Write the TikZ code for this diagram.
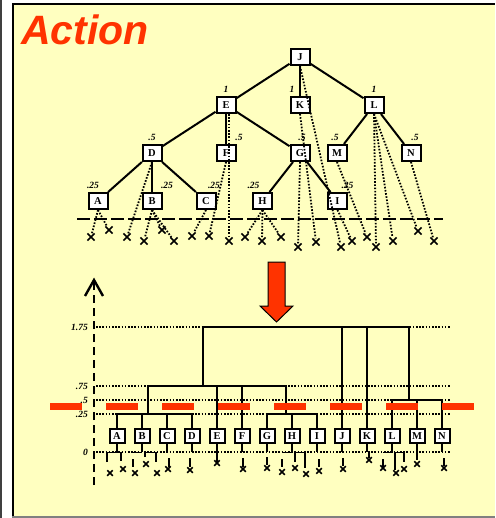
\documentclass[tikz,border=0pt]{standalone}
\usepackage{fontspec}
\setmainfont{Liberation Serif}
\newfontfamily\titlefont{Liberation Sans}
\usetikzlibrary{shapes.misc}
\definecolor{panelyellow}{RGB}{255,255,192}
\definecolor{actionred}{RGB}{255,51,0}

\begin{document}
\begin{tikzpicture}[x=1pt,y=-1pt,
	level distance=48pt,
	level 1/.style={sibling distance=74pt},
	level 2/.style={sibling distance=74pt},
	level 3/.style={sibling distance=54pt},
	edge from parent/.style={draw,tree line},
	every label/.style={num},
	label distance=2pt]
\tikzstyle{box node}=[rectangle,draw,fill=white,line width=2pt,inner sep=0pt,minimum width=19pt,minimum height=16pt,font=\fontsize{10.5}{10.5}\selectfont\bfseries]
\tikzstyle{leaf node}=[box node,minimum width=15pt,minimum height=14pt]
\tikzset{
	x node/.style={cross out,draw,line width=1.7pt,inner sep=0pt,minimum size=5.5pt},
	small x/.style={x node,minimum size=4pt,line width=1.5pt},
	num/.style={font=\fontsize{9.5}{9.5}\selectfont\bfseries\itshape,inner sep=1pt},
	tree line/.style={line width=2pt},
	stub/.style={line width=1.8pt},
	dot line/.style={line width=1.8pt,dash pattern=on 1.6pt off 1.6pt},
	level line/.style={line width=1.5pt,dash pattern=on 1.5pt off 1.7pt},
	cut line/.style={line width=2pt,dash pattern=on 13pt off 4pt},
	red cut/.style={actionred,line width=7pt,dash pattern=on 32pt off 24pt}
}
\useasboundingbox (0,0) rectangle (495,518);
% panel
\fill[white] (0,0) rectangle (495,518);
\draw[black!75,line width=2pt] (1,0) -- (1,518);
\fill[panelyellow] (12,3) rectangle (495,518);
\draw[line width=1.8pt] (12.9,518) -- (12.9,3.9) -- (495,3.9);
\draw[gray,line width=1.5pt] (12,516.8) -- (495,516.8);
\node[anchor=base west,inner sep=0pt,text=actionred,font=\titlefont\bfseries\itshape\fontsize{41}{41}\selectfont] (title) at (21,45) {Action};

% search tree
\node[box node] (J) at (300,57) {J}
	child{node[box node,label=above:1] (E) {E}
		child{node[box node,label=above:.5] (D) {D}
			child{node[box node,label={[xshift=-5pt]above:.25}] (A) {A}}
			child{node[box node,label={[xshift=15pt]above:.25}] (B) {B}}
			child{node[box node,label={[xshift=8pt]above:.25}] (C) {C}}
		}
		child{node[box node,label={[xshift=13pt]above:.5}] (F) {F}}
		child{node[box node,label={[xshift=2pt]above:.5}] (G) {G}
			child[sibling distance=75pt]{node[box node,label={[xshift=-9pt]above:.25}] (H) {H}}
			child[sibling distance=75pt]{node[box node,label={[xshift=10pt]above:.25}] (I) {I}}
		}
	}
	child{node[box node,label={[xshift=-8pt]above:1}] (K) {K}}
	child{node[box node,label=above:1] (L) {L}
		child{node[box node,label={[xshift=-2pt]above:.5}] (M) {M}}
		child{node[box node,label={[xshift=4pt]above:.5}] (N) {N}}
	};

% cut-off line
\coordinate (cut west) at (77,219);
\coordinate (cut east) at (443,219);
\draw[cut line] (cut west) -- (cut east);

% pruned moves
\foreach \n/\x/\y in {ax1/91/237,ax2/109/230,dx/127/237,bx1/144/241,bx2/162/230,bx3/174/241,cx/192/236,fx/209/236,ex/229/241,hx1/245/237,hx2/262/241,hx3/281/237,gx/298/247,kx/316/242,jx/341/247,ix/352/241,mx/367/237,lx1/376/247,lx2/393/241,lx3/418/231,nx/434/241}
	\node[x node] (\n) at (\x,\y) {};
\foreach \s/\t in {A/ax1,A/ax2,D/dx,B/bx1,B/bx2,B/bx3,C/cx,F/fx,H/hx1,H/hx2,H/hx3,G/gx,K/kx,J/jx,I/ix,M/mx,L/lx1,L/lx2,L/lx3,N/nx}
	\draw[dot line] (\s.south) -- (\t);
\draw[dot line] ([xshift=3pt]E.south) -- (ex);

% arrow
\draw[fill=actionred,line width=1pt] (268,262) -- (285,262) -- (285,306) -- (293,306) -- (276.5,322) -- (260,306) -- (268,306) -- cycle;

% axis
\coordinate (axis top) at (94,280);
\coordinate (axis bot) at (94,485);
\draw[line width=2.4pt,dash pattern=on 8pt off 5pt] (axis bot) -- (axis top);
\draw[line width=2.4pt] (85,296) -- (94,280) -- (103,296);

% levels
\foreach \y/\t [count=\i] in {327/1.75,386/.75,400/.5,414/.25,452/0}{
	\draw[level line] (96,\y) -- (451,\y);
	\node[num,anchor=east] (lv\i) at (89,\y) {\t};
}

% leaves
\foreach \l [count=\i from 0] in {A,...,N}
	\node[leaf node] (leaf\l) at ({117+25*\i},436) {\l};

% merges
\coordinate (abcd) at (148,414);
\coordinate (ghi) at (286,414);
\coordinate (low) at (203,386);
\coordinate (top) at (203,327);
\coordinate (lmn) at (409,400);
\coordinate (zero) at (0,452);
\draw[tree line] (leafA.north) |- (leafD.north |- abcd) -- (leafD.north);
\draw[tree line] (leafB.north) -- (leafB.north |- abcd);
\draw[tree line] (leafC.north) -- (leafC.north |- abcd);
\draw[tree line] (leafG.north) |- (leafI.north |- ghi) -- (leafI.north);
\draw[tree line] (leafH.north) -- (leafH.north |- ghi);
\draw[tree line] (abcd) -- (abcd |- low) -| (ghi);
\draw[tree line] (leafE.north) -- (leafE.north |- low);
\draw[tree line] (leafF.north) -- (leafF.north |- low);
\draw[tree line] (low) -- (top) -- (top -| lmn) -- (lmn);
\draw[tree line] (leafJ.north) -- (leafJ.north |- top);
\draw[tree line] (leafK.north) -- (leafK.north |- top);
\draw[tree line] (leafL.north) |- (leafN.north |- lmn) -- (leafN.north);
\draw[tree line] (leafM.north) -- (leafM.north |- lmn);

% threshold
\draw[red cut] (50,406) -- (475,406);

% stubs under leaves
\foreach \l in {A,...,N}
	\draw[stub] (leaf\l.south) -- (leaf\l.south |- zero);
\draw[stub] (107,462) |- (121,452.5) -- (121,461);
\draw[stub] (133,452.5) -- (142,452.5);
\draw[stub] (145,457) |- (156,452.5) -- (156,462);
\draw[stub] (282,452.5) -- (292,452.5);
\draw[stub] (295,462) |- (305,452.5) -- (305,468);
\draw[stub] (383,452.5) -- (393,452.5);
\draw[stub] (395,470) |- (404,452.5) -- (404,462);
\foreach \x/\a/\b in {133/459/467,169/458/467,190/458/467,217/452/462,243/458/467,267/457/465,282/459/467,319/459/467,343/458/466,369/452/458,383/459/467,417/452/460,444/458/466}
	\draw[stub] (\x,\a) -- (\x,\b);
\foreach \n/\x/\y in {sa1/110/473,sa2/123/469,sb1/135/473,sb2/146/464,sb3/157/473,sc/168/469,sd/190/470,se/217/463,sf/243/469,sg/267/468,sh1/282/472,sh2/295/468,sh3/306/474,si/319/471,sj/343/469,sk/369/460,sl1/383/468,sl2/396/473,sl3/404/469,sm/417/464,sn/444/468}
	\node[small x] (\n) at (\x,\y) {};
\end{tikzpicture}
\end{document}
